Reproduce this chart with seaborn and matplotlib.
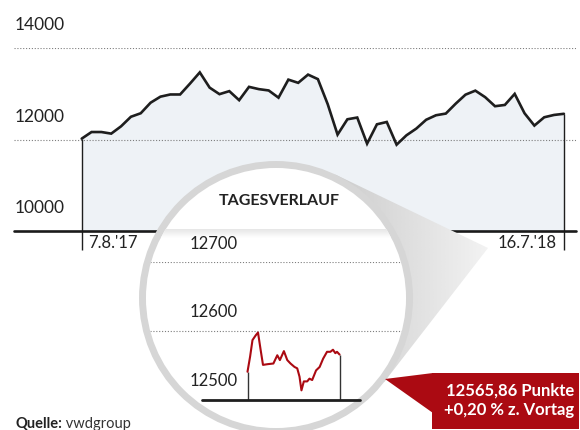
import numpy as np
import pandas as pd
import matplotlib
matplotlib.use("Agg")
import matplotlib.pyplot as plt
from matplotlib.patches import Circle, Polygon, Rectangle
import seaborn as sns

# weekly closing values, 7.8.2017 - 16.7.2018
week_start = "2017-08-07"
weekly_close = [12022, 12167, 12167, 12132, 12292, 12501, 12578, 12809, 12941, 12989,
                12989, 13226, 13473, 13139, 12996, 13062, 12864, 13156, 13106, 13077,
                12919, 13314, 13244, 13424, 13325, 12776, 12110, 12446, 12484, 11912,
                12336, 12387, 11890, 12095, 12242, 12435, 12534, 12571, 12787, 12985,
                13073, 12930, 12732, 12760, 13002, 12578, 12308, 12490, 12541, 12566]
main_ticks = [10000, 12000, 14000]
date_labels = ["7.8.'17", "16.7.'18"]

# intraday course (hour of day, points)
intraday_hours = [9.00, 9.24, 9.46, 9.76, 9.97, 10.22, 10.43, 10.84, 11.39, 11.75,
                  11.99, 12.36, 12.67, 12.97, 13.34, 13.59, 13.80, 13.98, 14.20, 14.51,
                  14.72, 14.97, 15.33, 15.66, 15.98, 16.34, 16.65, 16.89, 17.11, 17.26, 17.50]
intraday_points = [12541, 12563, 12587, 12594, 12598, 12572, 12551, 12552, 12553, 12565,
                   12558, 12571, 12558, 12553, 12548, 12546, 12534, 12514, 12527, 12527,
                   12531, 12529, 12543, 12548, 12560, 12570, 12570, 12573, 12568, 12570, 12566]
intraday_ticks = [12500, 12600, 12700]

title_inner = "TAGESVERLAUF"
box_lines = ["12565,86 Punkte", "+0,20 % z. Vortag"]
source_bold, source_rest = "Quelle:", " vwdgroup"

sns.set_theme(style="white")
plt.rcParams["font.family"] = ["Lato", "DejaVu Sans"]

TXT = "#222222"
RED = "#ab0a12"
GRID = dict(color="#7d7d7d", lw=0.8, ls=(0, (1, 1.6)))

W, H = 580, 430
fig = plt.figure(figsize=(W / 100, H / 100), dpi=100)


def px_box(x0, y0, x1, y1):
    # pixel box (origin top-left) -> figure fraction
    return [x0 / W, 1 - y1 / H, (x1 - x0) / W, (y1 - y0) / H]


# ---- main chart ----
ax = fig.add_axes(px_box(14, 48.3, 576, 231), zorder=1)
dates = pd.date_range(week_start, periods=len(weekly_close), freq="7D")
df = pd.DataFrame({"date": dates, "close": weekly_close})

ax.fill_between(df["date"], main_ticks[0], df["close"], color="#eef2f6", lw=0, zorder=0)
sns.lineplot(data=df, x="date", y="close", ax=ax, color="#1e1e1e", lw=1.9, zorder=3)
for ln in ax.lines:
    ln.set_solid_joinstyle("miter")
ax.vlines([dates[0], dates[-1]], main_ticks[0], [weekly_close[0], weekly_close[-1]],
          color="#1e1e1e", lw=1.0, zorder=3)
ax.vlines([dates[0], dates[-1]], 9580, main_ticks[0], color="#1e1e1e", lw=1.0, clip_on=False)

week = pd.Timedelta(days=7)
ax.set_xlim(dates[0] - 6.88 * week, dates[-1] + 1.23 * week)
ax.set_ylim(main_ticks[0], main_ticks[-1])
for v in main_ticks[1:]:
    ax.axhline(v, zorder=1, **GRID)
ax.axhline(main_ticks[0], color="#1a1a1a", lw=1.9, clip_on=False, zorder=4)

for v in main_ticks:
    ax.annotate(f"{v}", xy=(0, v), xycoords=("axes fraction", "data"),
                xytext=(0.8, 16.5), textcoords="offset points",
                ha="left", va="center", fontsize=12.5, color=TXT, annotation_clip=False)
ax.annotate(date_labels[0], xy=(dates[0], main_ticks[0]), xytext=(4.5, -8.6),
            textcoords="offset points", ha="left", va="center", fontsize=12, color=TXT,
            annotation_clip=False)
ax.annotate(date_labels[1], xy=(dates[-1], main_ticks[0]), xytext=(-5, -8.6),
            textcoords="offset points", ha="right", va="center", fontsize=12, color=TXT,
            annotation_clip=False)
ax.set_xlabel("")
ax.set_ylabel("")
ax.set_xticks([])
ax.set_yticks([])
sns.despine(ax=ax, left=True, bottom=True)
ax.patch.set_visible(False)

# ---- magnifier decoration (pixel coordinates) ----
deco = fig.add_axes([0, 0, 1, 1], zorder=2)
deco.set_xlim(0, W)
deco.set_ylim(H, 0)
deco.axis("off")

cx, cy, R = 276.0, 298.0, 137.0
apex = np.array([488.0, 248.0])
d = apex - np.array([cx, cy])
theta = np.arctan2(d[1], d[0])
half = np.arccos(R / np.hypot(*d))
t_low = (cx + R * np.cos(theta + half), cy + R * np.sin(theta + half))
t_up = (cx + R * np.cos(theta - half), cy + R * np.sin(theta - half))
cone = Polygon([apex, t_up, (cx, cy), t_low], closed=True, facecolor="none",
               edgecolor="none", transform=deco.transData)
deco.add_patch(cone)
grad = np.linspace(0.80, 0.95, 256).reshape(1, -1)
im = deco.imshow(grad, cmap="gray", vmin=0, vmax=1, aspect="auto",
                 extent=(t_up[0], apex[0], t_low[1], t_up[1]), zorder=1, interpolation="bicubic")
im.set_clip_path(cone)

deco.add_patch(Circle((cx, cy), R - 3.5, facecolor="white", edgecolor="#d6d6d6",
                      lw=5.0, zorder=2))

inner_clip = Circle((cx, cy), R - 7, transform=deco.transData)
shade = np.linspace(0.90, 1.0, 64).reshape(-1, 1)
sh = deco.imshow(shade, cmap="gray", vmin=0, vmax=1, aspect="auto",
                 extent=(cx - R, cx + R, 238, 229), zorder=3, interpolation="bicubic")
sh.set_clip_path(inner_clip)
deco.set_xlim(0, W)
deco.set_ylim(H, 0)

deco.text(279, 201, title_inner, ha="center", va="center", fontsize=11.5,
          fontweight="bold", color=TXT, zorder=4)

# ---- intraday chart ----
ax2 = fig.add_axes(px_box(150, 262.3, 410, 400), zorder=3)
ax2.patch.set_visible(False)
idf = pd.DataFrame({"hour": intraday_hours, "points": intraday_points})
sns.lineplot(data=idf, x="hour", y="points", ax=ax2, color=RED, lw=1.5, zorder=3)
ax2.vlines([intraday_hours[0], intraday_hours[-1]], intraday_ticks[0],
           [intraday_points[0], intraday_points[-1]], color="#333333", lw=1.0, zorder=2)
ax2.set_xlim(0, 24)
ax2.set_ylim(intraday_ticks[0], intraday_ticks[-1])
for v in intraday_ticks[1:]:
    g = ax2.axhline(v, zorder=1, **GRID)
    g.set_clip_path(Circle((cx, cy), R - 7, transform=deco.transData))
ax2.axhline(intraday_ticks[0], xmin=0.2, xmax=0.808, color="#1e1e1e", lw=2.0,
            clip_on=False, zorder=4)
for v in intraday_ticks:
    ax2.annotate(f"{v}", xy=(0.154, v), xycoords=("axes fraction", "data"),
                 xytext=(0, 13.5), textcoords="offset points", ha="left", va="center",
                 fontsize=12, color=TXT, annotation_clip=False)
ax2.set_xlabel("")
ax2.set_ylabel("")
ax2.set_xticks([])
ax2.set_yticks([])
sns.despine(ax=ax2, left=True, bottom=True)

# ---- value box and source ----
top = fig.add_axes([0, 0, 1, 1], zorder=4)
top.set_xlim(0, W)
top.set_ylim(H, 0)
top.axis("off")
top.add_patch(Polygon([(385, 379), (433, 373), (433, 413)], closed=True,
                      facecolor=RED, edgecolor="none"))
top.add_patch(Rectangle((432, 373), 147, 56, facecolor=RED, edgecolor="none"))
top.text(574, 391, box_lines[0], ha="right", va="center", color="white",
         fontsize=12, fontweight="bold")
top.text(574, 410, box_lines[1], ha="right", va="center", color="white",
         fontsize=12, fontweight="bold")

src = top.text(15, 424, source_bold, ha="left", va="center", fontsize=10.5,
               fontweight="bold", color=TXT)
top.annotate(source_rest, xy=(1, 0), xycoords=src, ha="left", va="bottom",
             fontsize=10.5, fontweight="normal", color="#333333")

fig.savefig("out.png", dpi=100)
